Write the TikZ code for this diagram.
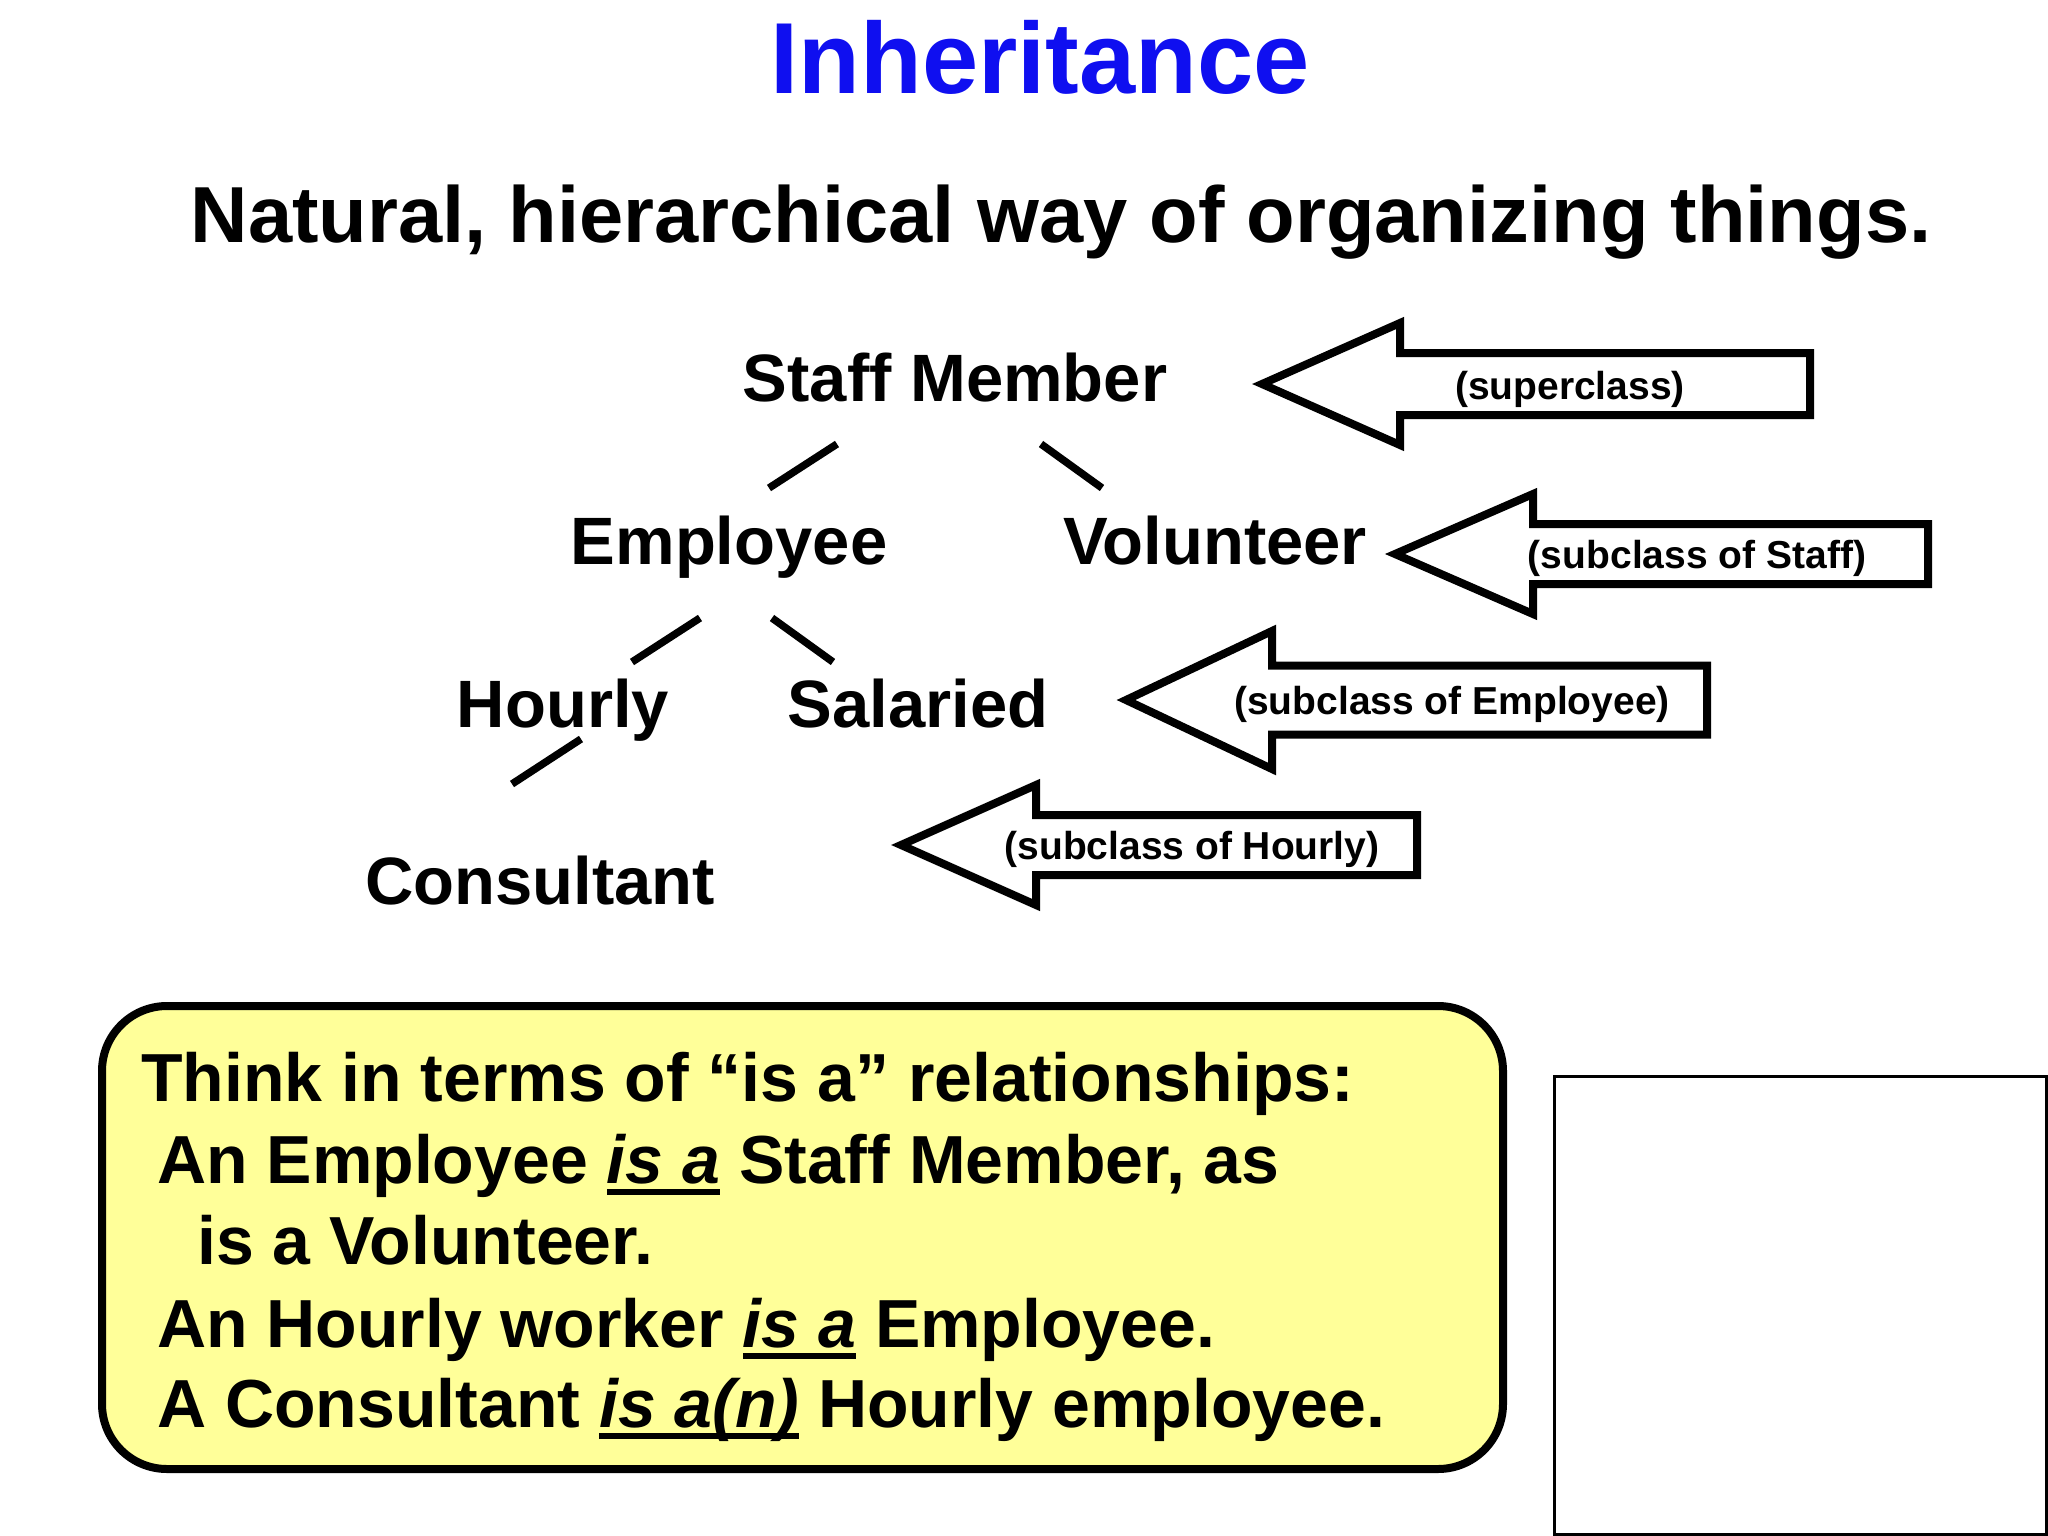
\documentclass[tikz,border=0pt]{standalone}
\usepackage{fontspec}
\setmainfont{Liberation Sans}
\definecolor{titleblue}{RGB}{15,15,240}
\definecolor{paleyellow}{RGB}{255,255,153}
\newcommand\myuline[1]{\setbox0\hbox{\itshape #1}\rlap{\rule[-0.17em]{\wd0}{0.075em}}\box0\relax}
\newcommand\blockarr[6]{%
  \draw[blockarrow] (#1,#2) -- (#3,#2-#4) -- (#3,#2-#5) -- (#6,#2-#5) -- (#6,#2+#5) -- (#3,#2+#5) -- (#3,#2+#4) -- cycle;}
\begin{document}
\begin{tikzpicture}[x=1pt,y=-1pt,
  title/.style={anchor=base,inner sep=0pt,font=\fontsize{101}{110}\selectfont\bfseries,text=titleblue},
  subtitle/.style={anchor=base,inner sep=0pt,font=\fontsize{79.5}{90}\selectfont\bfseries},
  cls/.style={anchor=base,inner sep=0pt,font=\fontsize{67}{80}\selectfont\bfseries},
  treeline/.style={line width=7.5pt},
  blockarrow/.style={line width=8pt,line join=miter,miter limit=10,fill=white},
  arrlabel/.style={anchor=center,inner sep=0pt,font=\fontsize{39}{46}\selectfont\bfseries},
  boxline/.style={anchor=base west,inner sep=0pt,font=\fontsize{68}{80}\selectfont\bfseries}]
\useasboundingbox (0,0) rectangle (2048,1536);

% title and subtitle
\node[title] (title) at (1040,94) {Inheritance};
\node[subtitle] (subtitle) at (1061,242) {Natural, hierarchical way of organizing things.};

% class tree
\node[cls] (sm) at (955,401) {Staff Member};
\node[cls] (emp) at (729,564) {Employee};
\node[cls] (vol) at (1215,564) {Volunteer};
\node[cls] (hr) at (563,727) {Hourly};
\node[cls] (sal) at (918,727) {Salaried};
\node[cls] (con) at (540,904) {Consultant};

\coordinate (smE) at (837,444); \coordinate (empS) at (769,488);
\coordinate (smV) at (1041,444); \coordinate (volS) at (1102,488);
\coordinate (empH) at (700,618); \coordinate (hrE) at (632,662);
\coordinate (empA) at (772,618); \coordinate (salE) at (833,662);
\coordinate (hrC) at (581,739); \coordinate (conH) at (512,784);
\draw[treeline] (smE) -- (empS);
\draw[treeline] (smV) -- (volS);
\draw[treeline] (empH) -- (hrE);
\draw[treeline] (empA) -- (salE);
\draw[treeline] (hrC) -- (conH);

% block arrows with labels
\blockarr{1262}{384}{1400}{61}{31}{1810}
\node[arrlabel] (a1) at (1570,389) {(superclass)};
\blockarr{1395}{554}{1533}{60}{30}{1928}
\node[arrlabel] (a2) at (1697,558) {(subclass of Staff)};
\blockarr{1126}{700}{1272}{69}{34.5}{1707}
\node[arrlabel] (a3) at (1452,704) {(subclass of Employee)};
\blockarr{901}{845}{1036}{60}{30}{1417}
\node[arrlabel] (a4) at (1192,849) {(subclass of Hourly)};

% yellow "is a" box
\draw[line width=8pt,fill=paleyellow,rounded corners=65pt] (102,1006) rectangle (1503,1469);
\node[boxline] (t1) at (141,1101) {Think in terms of “is a” relationships:};
\node[boxline] (t2) at (157,1183) {An Employee \myuline{is a} Staff Member, as};
\node[boxline] (t3) at (197,1264) {is a Volunteer.};
\node[boxline] (t4) at (157,1347) {An Hourly worker \myuline{is a} Employee.};
\node[boxline] (t5) at (157,1427) {A Consultant \myuline{is a(n)} Hourly employee.};

% empty frame at the bottom right
\draw[line width=3pt] (1554,1076) rectangle (2046.5,1534.5);
\end{tikzpicture}
\end{document}
